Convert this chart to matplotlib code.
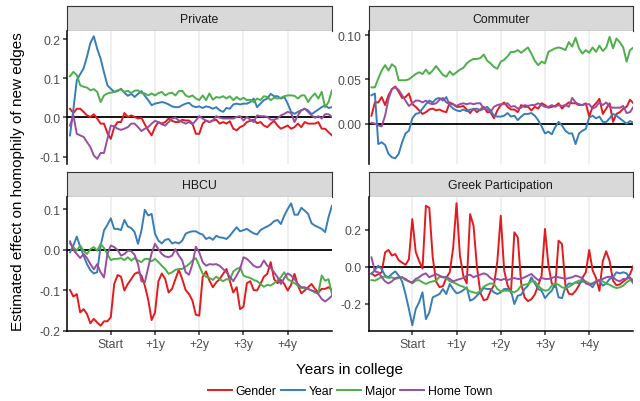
import matplotlib
matplotlib.use("Agg")
import matplotlib.pyplot as plt
import numpy as np
from matplotlib.lines import Line2D

plt.rcParams['font.family'] = ['Liberation Sans', 'DejaVu Sans']
plt.rcParams['axes.unicode_minus'] = False

# ---------------- data ----------------
weeks = np.arange(-48, 261, 4)  # weeks relative to college start
series_names = ["Gender", "Year", "Major", "Home Town"]
series_colors = ["#E41A1C", "#377EB8", "#4DAF4A", "#984EA3"]
x_tick_pos = [0, 52, 104, 156, 208]
x_tick_labels = ["Start", "+1y", "+2y", "+3y", "+4y"]
panel_titles = ["Private", "Commuter", "HBCU", "Greek Participation"]

private_gender = [0.022, 0.011, 0.022, 0.022, 0.014, 0.005, 0.001, 0.008, -0.003, -0.016, -0.016, -0.04, -0.055,
                  -0.025, -0.012, -0.012, 0.011, 0.001, 0.005, 0.001, -0.003, -0.001, -0.018, -0.033, -0.046,
                  -0.025, -0.012, -0.016, -0.012, -0.003, -0.009, -0.012, -0.012, -0.006, -0.008, -0.008, -0.016, -0.042,
                  -0.042, -0.016, -0.008, -0.012, -0.008, -0.006, -0.016, -0.012, -0.016, -0.01, -0.029, -0.033, -0.025,
                  -0.021, -0.012, -0.009, -0.006, -0.015, -0.012, -0.021, -0.025, -0.016, -0.009, -0.021, -0.029, -0.025,
                  -0.021, -0.029, -0.025, -0.016, -0.025, -0.012, -0.016, -0.016, -0.016, -0.012, -0.029, -0.029, -0.038, -0.046]
private_year = [-0.046, 0.02, 0.095, 0.11, 0.125, 0.155, 0.19, 0.207, 0.175, 0.15, 0.115, 0.082, 0.073,
                0.065, 0.067, 0.073, 0.063, 0.055, 0.06, 0.052, 0.06, 0.067, 0.055, 0.044, 0.031,
                0.035, 0.037, 0.039, 0.037, 0.033, 0.028, 0.026, 0.026, 0.031, 0.035, 0.037, 0.029, 0.026,
                0.028, 0.024, 0.028, 0.026, 0.022, 0.026, 0.018, 0.014, 0.024, 0.022, 0.033, 0.035, 0.033,
                0.035, 0.035, 0.039, 0.048, 0.026, 0.035, 0.044, 0.048, 0.06, 0.054, 0.054, 0.048, 0.052,
                0.035, 0.014, 0.009, 0.014, 0.018, 0.022, 0.018, 0.008, 0.014, 0.02, 0.026, 0.031, 0.024, 0.026]
private_major = [0.105, 0.116, 0.108, 0.082, 0.078, 0.076, 0.069, 0.072, 0.065, 0.039, 0.056, 0.061, 0.063,
                 0.065, 0.069, 0.071, 0.065, 0.068, 0.062, 0.068, 0.069, 0.062, 0.061, 0.056, 0.061,
                 0.056, 0.062, 0.065, 0.056, 0.061, 0.063, 0.056, 0.067, 0.068, 0.056, 0.052, 0.056, 0.048,
                 0.044, 0.056, 0.044, 0.061, 0.045, 0.052, 0.05, 0.054, 0.048, 0.054, 0.044, 0.052, 0.045,
                 0.05, 0.044, 0.045, 0.039, 0.048, 0.044, 0.054, 0.052, 0.044, 0.05, 0.048, 0.05, 0.054,
                 0.056, 0.056, 0.055, 0.048, 0.056, 0.056, 0.039, 0.052, 0.061, 0.048, 0.065, 0.026, 0.039, 0.069]
private_home = [-0.021, 0.005, -0.042, -0.046, -0.05, -0.063, -0.076, -0.097, -0.106, -0.091, -0.091, -0.055, -0.021,
                -0.023, -0.029, -0.032, -0.029, -0.025, -0.016, -0.016, -0.025, -0.035, -0.029, -0.025, -0.016,
                -0.009, -0.012, -0.018, -0.021, -0.012, -0.003, -0.001, -0.008, -0.012, -0.016, -0.012, -0.018, -0.008,
                0.003, -0.003, -0.009, -0.012, -0.008, 0.003, -0.001, -0.003, -0.003, -0.003, -0.003, 0.001, 0.003,
                -0.008, 0.001, -0.006, -0.012, 0.005, 0.003, 0.003, 0.001, -0.006, -0.006, -0.003, 0.005, 0.009,
                0.014, 0.011, -0.012, 0.005, 0.018, 0.022, 0.014, 0.005, -0.001, 0.003, -0.003, 0.008, 0.008, 0.001]

commuter_gender = [0.009, 0.024, 0.024, 0.03, 0.021, 0.032, 0.039, 0.042, 0.036, 0.029, 0.03, 0.034, 0.022,
                   0.019, 0.015, 0.011, 0.013, 0.016, 0.017, 0.015, 0.016, 0.014, 0.013, 0.024, 0.022,
                   0.019, 0.019, 0.02, 0.016, 0.012, 0.017, 0.013, 0.016, 0.019, 0.013, 0.013, 0.006, 0.015,
                   0.021, 0.024, 0.019, 0.016, 0.016, 0.013, 0.021, 0.019, 0.019, 0.015, 0.019, 0.017, 0.023,
                   0.021, 0.018, 0.019, 0.02, 0.023, 0.017, 0.021, 0.024, 0.023, 0.023, 0.021, 0.021, 0.023,
                   0.008, 0.019, 0.023, 0.028, 0.011, 0.017, 0.023, 0.002, 0.011, 0.013, 0.017, 0.019, 0.027, 0.023]
commuter_year = [0.032, 0.034, -0.023, -0.021, -0.024, -0.034, -0.038, -0.039, -0.034, -0.021, -0.011, -0.008, 0.006,
                 0.011, 0.012, 0.017, 0.022, 0.026, 0.024, 0.028, 0.029, 0.026, 0.03, 0.021, 0.017,
                 0.015, 0.014, 0.016, 0.014, 0.016, 0.016, 0.017, 0.015, 0.017, 0.019, 0.015, 0.009, 0.008,
                 0.008, 0.009, 0.012, 0.008, 0.009, 0.004, 0.008, 0.011, 0.011, 0.012, 0.009, 0.004, -0.003,
                 -0.011, -0.009, -0.012, -0.004, 0.002, -0.002, -0.008, -0.011, -0.011, -0.023, -0.011, -0.008, -0.006,
                 0.007, 0.009, 0.006, 0.008, 0.002, 0.002, 0.006, 0.011, 0.009, 0.006, 0.003, 0.0, 0.003, 0.001]
commuter_major = [0.041, 0.041, 0.051, 0.06, 0.066, 0.06, 0.067, 0.064, 0.049, 0.049, 0.049, 0.05, 0.053,
                  0.056, 0.058, 0.056, 0.061, 0.056, 0.06, 0.065, 0.06, 0.055, 0.053, 0.059, 0.055,
                  0.058, 0.061, 0.063, 0.068, 0.071, 0.073, 0.073, 0.074, 0.078, 0.071, 0.068, 0.064, 0.062,
                  0.07, 0.072, 0.076, 0.081, 0.081, 0.083, 0.08, 0.083, 0.086, 0.079, 0.071, 0.066, 0.07,
                  0.068, 0.081, 0.083, 0.085, 0.086, 0.085, 0.083, 0.092, 0.087, 0.097, 0.085, 0.079, 0.083,
                  0.08, 0.086, 0.081, 0.088, 0.082, 0.086, 0.098, 0.085, 0.096, 0.092, 0.086, 0.07, 0.083, 0.086]
commuter_home = [0.001, 0.0, -0.002, -0.003, 0.009, 0.028, 0.039, 0.041, 0.038, 0.032, 0.026, 0.02, 0.023,
                 0.026, 0.026, 0.024, 0.026, 0.023, 0.022, 0.023, 0.027, 0.029, 0.024, 0.022, 0.022,
                 0.02, 0.022, 0.023, 0.022, 0.023, 0.022, 0.023, 0.023, 0.017, 0.016, 0.013, 0.019, 0.021,
                 0.022, 0.022, 0.023, 0.019, 0.02, 0.017, 0.018, 0.021, 0.02, 0.021, 0.021, 0.023, 0.021,
                 0.019, 0.019, 0.021, 0.019, 0.021, 0.02, 0.021, 0.019, 0.029, 0.024, 0.022, 0.021, 0.022,
                 0.022, 0.017, 0.019, 0.024, 0.021, 0.024, 0.019, 0.018, 0.018, 0.018, 0.02, 0.012, 0.013, 0.019]

hbcu_gender = [-0.099, -0.115, -0.109, -0.154, -0.146, -0.158, -0.181, -0.17, -0.179, -0.187, -0.176, -0.176, -0.166,
               -0.084, -0.062, -0.066, -0.1, -0.084, -0.072, -0.059, -0.055, -0.063, -0.088, -0.123, -0.173,
               -0.154, -0.077, -0.058, -0.072, -0.105, -0.096, -0.072, -0.049, -0.072, -0.099, -0.109, -0.125, -0.16,
               -0.162, -0.067, -0.053, -0.076, -0.092, -0.08, -0.072, -0.059, -0.047, -0.077, -0.105, -0.092, -0.146,
               -0.14, -0.082, -0.077, -0.099, -0.1, -0.084, -0.066, -0.059, -0.03, -0.072, -0.082, -0.074, -0.084,
               -0.1, -0.086, -0.059, -0.088, -0.107, -0.1, -0.092, -0.084, -0.096, -0.105, -0.096, -0.096, -0.092, -0.099]
hbcu_year = [-0.006, 0.011, 0.033, 0.008, -0.014, -0.035, -0.05, -0.058, -0.055, 0.01, 0.048, 0.062, 0.078,
             0.052, 0.052, 0.049, 0.074, 0.058, 0.054, 0.044, 0.015, 0.048, 0.099, 0.085, 0.089,
             0.04, 0.023, 0.016, 0.025, 0.027, 0.016, 0.019, 0.016, 0.023, 0.04, 0.044, 0.046, 0.046,
             0.041, 0.038, 0.027, 0.031, 0.025, 0.035, 0.031, 0.03, 0.027, 0.035, 0.046, 0.056, 0.046,
             0.049, 0.052, 0.046, 0.041, 0.038, 0.049, 0.054, 0.058, 0.063, 0.071, 0.074, 0.064, 0.085,
             0.101, 0.115, 0.087, 0.087, 0.104, 0.097, 0.089, 0.066, 0.06, 0.056, 0.052, 0.044, 0.081, 0.109]
hbcu_major = [0.016, 0.007, -0.002, 0.011, -0.002, -0.01, 0.002, 0.007, -0.002, 0.015, 0.005, -0.01, -0.025,
              -0.022, -0.022, -0.02, -0.025, -0.018, -0.026, -0.02, -0.026, -0.03, -0.022, -0.022, -0.028,
              -0.022, -0.03, -0.039, -0.047, -0.059, -0.055, -0.049, -0.047, -0.047, -0.041, -0.035, -0.026, -0.02,
              -0.039, -0.059, -0.066, -0.069, -0.074, -0.066, -0.072, -0.077, -0.072, -0.074, -0.053, -0.047, -0.043,
              -0.063, -0.067, -0.069, -0.074, -0.077, -0.084, -0.091, -0.086, -0.088, -0.082, -0.076, -0.067, -0.055,
              -0.072, -0.077, -0.082, -0.088, -0.094, -0.094, -0.096, -0.1, -0.105, -0.107, -0.063, -0.076, -0.072, -0.109]
hbcu_home = [0.021, 0.0, -0.01, -0.02, -0.01, -0.02, -0.035, -0.048, -0.035, -0.055, -0.068, -0.01, 0.011,
             0.007, 0.0, -0.014, -0.01, -0.002, -0.003, -0.012, -0.035, -0.077, -0.08, -0.043, -0.008,
             0.015, 0.002, -0.01, -0.016, -0.018, -0.014, 0.002, -0.014, -0.026, -0.055, -0.061, -0.035, 0.008,
             -0.006, -0.03, -0.039, -0.035, -0.036, -0.035, -0.039, -0.047, -0.055, -0.066, -0.077, -0.063, -0.047,
             -0.018, -0.022, -0.03, -0.039, -0.043, -0.041, -0.026, -0.039, -0.044, -0.055, -0.067, -0.084, -0.069,
             -0.058, -0.063, -0.072, -0.084, -0.092, -0.092, -0.096, -0.1, -0.102, -0.109, -0.121, -0.127, -0.121, -0.113]

greek_gender = [-0.036, -0.05, -0.04, -0.03, 0.077, 0.09, 0.06, 0.068, 0.035, 0.022, 0.01, 0.04, 0.256,
                0.08, 0.03, -0.01, 0.328, 0.316, 0.05, -0.08, -0.11, -0.105, -0.06, -0.03, 0.1,
                0.342, 0.06, -0.05, -0.09, 0.283, 0.22, 0.0, -0.14, -0.18, -0.175, -0.13, -0.1, 0.03,
                0.274, -0.02, -0.1, -0.14, 0.185, 0.158, -0.09, -0.165, -0.185, -0.175, -0.15, -0.1, -0.05,
                0.203, 0.01, -0.09, -0.11, 0.14, 0.122, -0.1, -0.145, -0.15, -0.13, -0.1, -0.06, -0.03,
                0.09, -0.02, -0.06, -0.13, 0.03, 0.083, 0.03, -0.075, -0.1, -0.095, -0.08, -0.065, -0.04, 0.005]
greek_year = [-0.039, -0.018, 0.005, -0.013, -0.048, -0.057, -0.039, -0.025, -0.048, -0.079, -0.147, -0.228, -0.315,
              -0.228, -0.192, -0.138, -0.282, -0.246, -0.165, -0.156, -0.147, -0.12, -0.147, -0.093, -0.12,
              -0.143, -0.138, -0.126, -0.111, -0.183, -0.174, -0.156, -0.138, -0.115, -0.12, -0.12, -0.138, -0.147,
              -0.138, -0.12, -0.12, -0.129, -0.201, -0.156, -0.151, -0.12, -0.102, -0.057, -0.09, -0.12, -0.129,
              -0.169, -0.147, -0.129, -0.09, -0.165, -0.169, -0.111, -0.09, -0.093, -0.084, -0.09, -0.079, -0.084,
              -0.093, -0.111, -0.079, -0.075, -0.102, -0.09, -0.066, -0.057, -0.03, -0.036, -0.03, -0.036, -0.066, -0.09]
greek_major = [-0.072, -0.075, -0.066, -0.054, -0.054, -0.061, -0.057, -0.066, -0.061, -0.057, -0.072, -0.079, -0.09,
               -0.075, -0.072, -0.084, -0.093, -0.084, -0.079, -0.075, -0.054, -0.057, -0.061, -0.079, -0.084,
               -0.093, -0.102, -0.108, -0.12, -0.133, -0.138, -0.143, -0.129, -0.108, -0.097, -0.09, -0.093, -0.12,
               -0.133, -0.129, -0.129, -0.133, -0.138, -0.126, -0.102, -0.097, -0.093, -0.079, -0.079, -0.102, -0.12,
               -0.129, -0.126, -0.102, -0.09, -0.097, -0.111, -0.115, -0.108, -0.097, -0.084, -0.075, -0.072, -0.079,
               -0.09, -0.093, -0.079, -0.072, -0.079, -0.09, -0.097, -0.108, -0.115, -0.111, -0.102, -0.084, -0.072, -0.066]
greek_home = [0.05, -0.025, -0.03, -0.057, -0.079, -0.09, -0.079, -0.061, -0.057, -0.057, -0.066, -0.079, -0.084,
              -0.066, -0.057, -0.043, -0.036, -0.057, -0.048, -0.039, -0.048, -0.057, -0.054, -0.066, -0.079,
              -0.072, -0.066, -0.061, -0.048, -0.043, -0.057, -0.048, -0.043, -0.036, -0.043, -0.061, -0.072, -0.066,
              -0.072, -0.066, -0.072, -0.066, -0.061, -0.066, -0.066, -0.057, -0.048, -0.039, -0.057, -0.072, -0.061,
              -0.066, -0.066, -0.061, -0.054, -0.057, -0.061, -0.066, -0.061, -0.057, -0.048, -0.054, -0.061, -0.09,
              -0.097, -0.09, -0.079, -0.072, -0.066, -0.057, -0.054, -0.057, -0.072, -0.079, -0.066, -0.066, -0.057, -0.084]

private_yticks = [-0.1, 0.0, 0.1, 0.2]
private_ylabels = ["-0.1", "0.0", "0.1", "0.2"]
commuter_yticks = [0.0, 0.05, 0.10]
commuter_ylabels = ["0.00", "0.05", "0.10"]
hbcu_yticks = [-0.2, -0.1, 0.0, 0.1]
hbcu_ylabels = ["-0.2", "-0.1", "0.0", "0.1"]
greek_yticks = [-0.2, 0.0, 0.2]
greek_ylabels = ["-0.2", "0.0", "0.2"]

# ---------------- layout ----------------
W, H = 640, 402
fig = plt.figure(figsize=(W / 100, H / 100), dpi=100)
fig.patch.set_facecolor("white")


def rect(x0, y0, x1, y1):
    return [x0 / W, 1 - y1 / H, (x1 - x0) / W, (y1 - y0) / H]


col_x = [(67, 331.5), (368.5, 633)]
row_y = [(6.7, 31.7, 165), (172.7, 197.7, 332)]

panels = [
    (panel_titles[0], [private_gender, private_year, private_major, private_home],
     (-0.1191, 0.2212), private_yticks, private_ylabels, 0, 0),
    (panel_titles[1], [commuter_gender, commuter_year, commuter_major, commuter_home],
     (-0.0455, 0.1049), commuter_yticks, commuter_ylabels, 0, 1),
    (panel_titles[2], [hbcu_gender, hbcu_year, hbcu_major, hbcu_home],
     (-0.2, 0.1314), hbcu_yticks, hbcu_ylabels, 1, 0),
    (panel_titles[3], [greek_gender, greek_year, greek_major, greek_home],
     (-0.346, 0.3766), greek_yticks, greek_ylabels, 1, 1),
]

LW = 1.4
for title, data, ylim, yt, yl, r, c in panels:
    x0, x1 = col_x[c]
    s0, p0, p1 = row_y[r]
    # strip
    sax = fig.add_axes(rect(x0, s0, x1, p0))
    sax.set_facecolor("#D9D9D9")
    sax.set_xticks([]); sax.set_yticks([])
    for sp in sax.spines.values():
        sp.set_color("#333333"); sp.set_linewidth(0.8)
    sax.text(0.5, 0.47, title, ha="center", va="center", fontsize=8.8, color="#1A1A1A",
             transform=sax.transAxes)
    # panel
    ax = fig.add_axes(rect(x0, p0, x1, p1))
    ax.set_facecolor("white")
    ax.set_xlim(-51.5, 259.5)
    ax.set_ylim(*ylim)
    ax.set_xticks(x_tick_pos)
    ax.grid(axis="x", color="#EBEBEB", linewidth=1.1, zorder=0)
    ax.set_axisbelow(True)
    ax.axhline(0, color="black", linewidth=1.3, zorder=1)
    for vals, col in zip(data, series_colors):
        ax.plot(weeks, vals, color=col, linewidth=LW, zorder=2, solid_joinstyle="round")
    ax.set_yticks(yt)
    ax.set_yticklabels(yl)
    for sp in ["top", "right"]:
        ax.spines[sp].set_visible(False)
    ax.spines["left"].set_color("black"); ax.spines["left"].set_linewidth(1.1)
    if r == 1:
        ax.spines["bottom"].set_color("black"); ax.spines["bottom"].set_linewidth(1.1)
        ax.set_xticklabels(x_tick_labels)
        ax.tick_params(axis="x", length=2.75, width=1.1, color="#333333",
                       labelsize=8.8, labelcolor="#4D4D4D", pad=2.2)
    else:
        ax.spines["bottom"].set_visible(False)
        ax.tick_params(axis="x", length=0, labelbottom=False)
    ax.tick_params(axis="y", length=2.75, width=1.1, color="#333333",
                   labelsize=8.8, labelcolor="#4D4D4D", pad=2.2)

fig.text(18.5 / W, 1 - 181.5 / H, "Estimated effect on homophily of new edges",
         rotation=90, ha="center", va="center", fontsize=11, color="black")
fig.text(350 / W, 1 - 370 / H, "Years in college", ha="center", va="center",
         fontsize=11, color="black")

handles = [Line2D([0], [0], color=c, linewidth=LW) for c in series_colors]
fig.legend(handles, series_names, loc="center", bbox_to_anchor=(350 / W, 1 - 392.3 / H),
           ncol=4, frameon=False, fontsize=8.8, handlelength=1.96, handletextpad=0.3,
           columnspacing=0.35, borderaxespad=0, borderpad=0)

fig.savefig("out.png", dpi=100, facecolor="white")
